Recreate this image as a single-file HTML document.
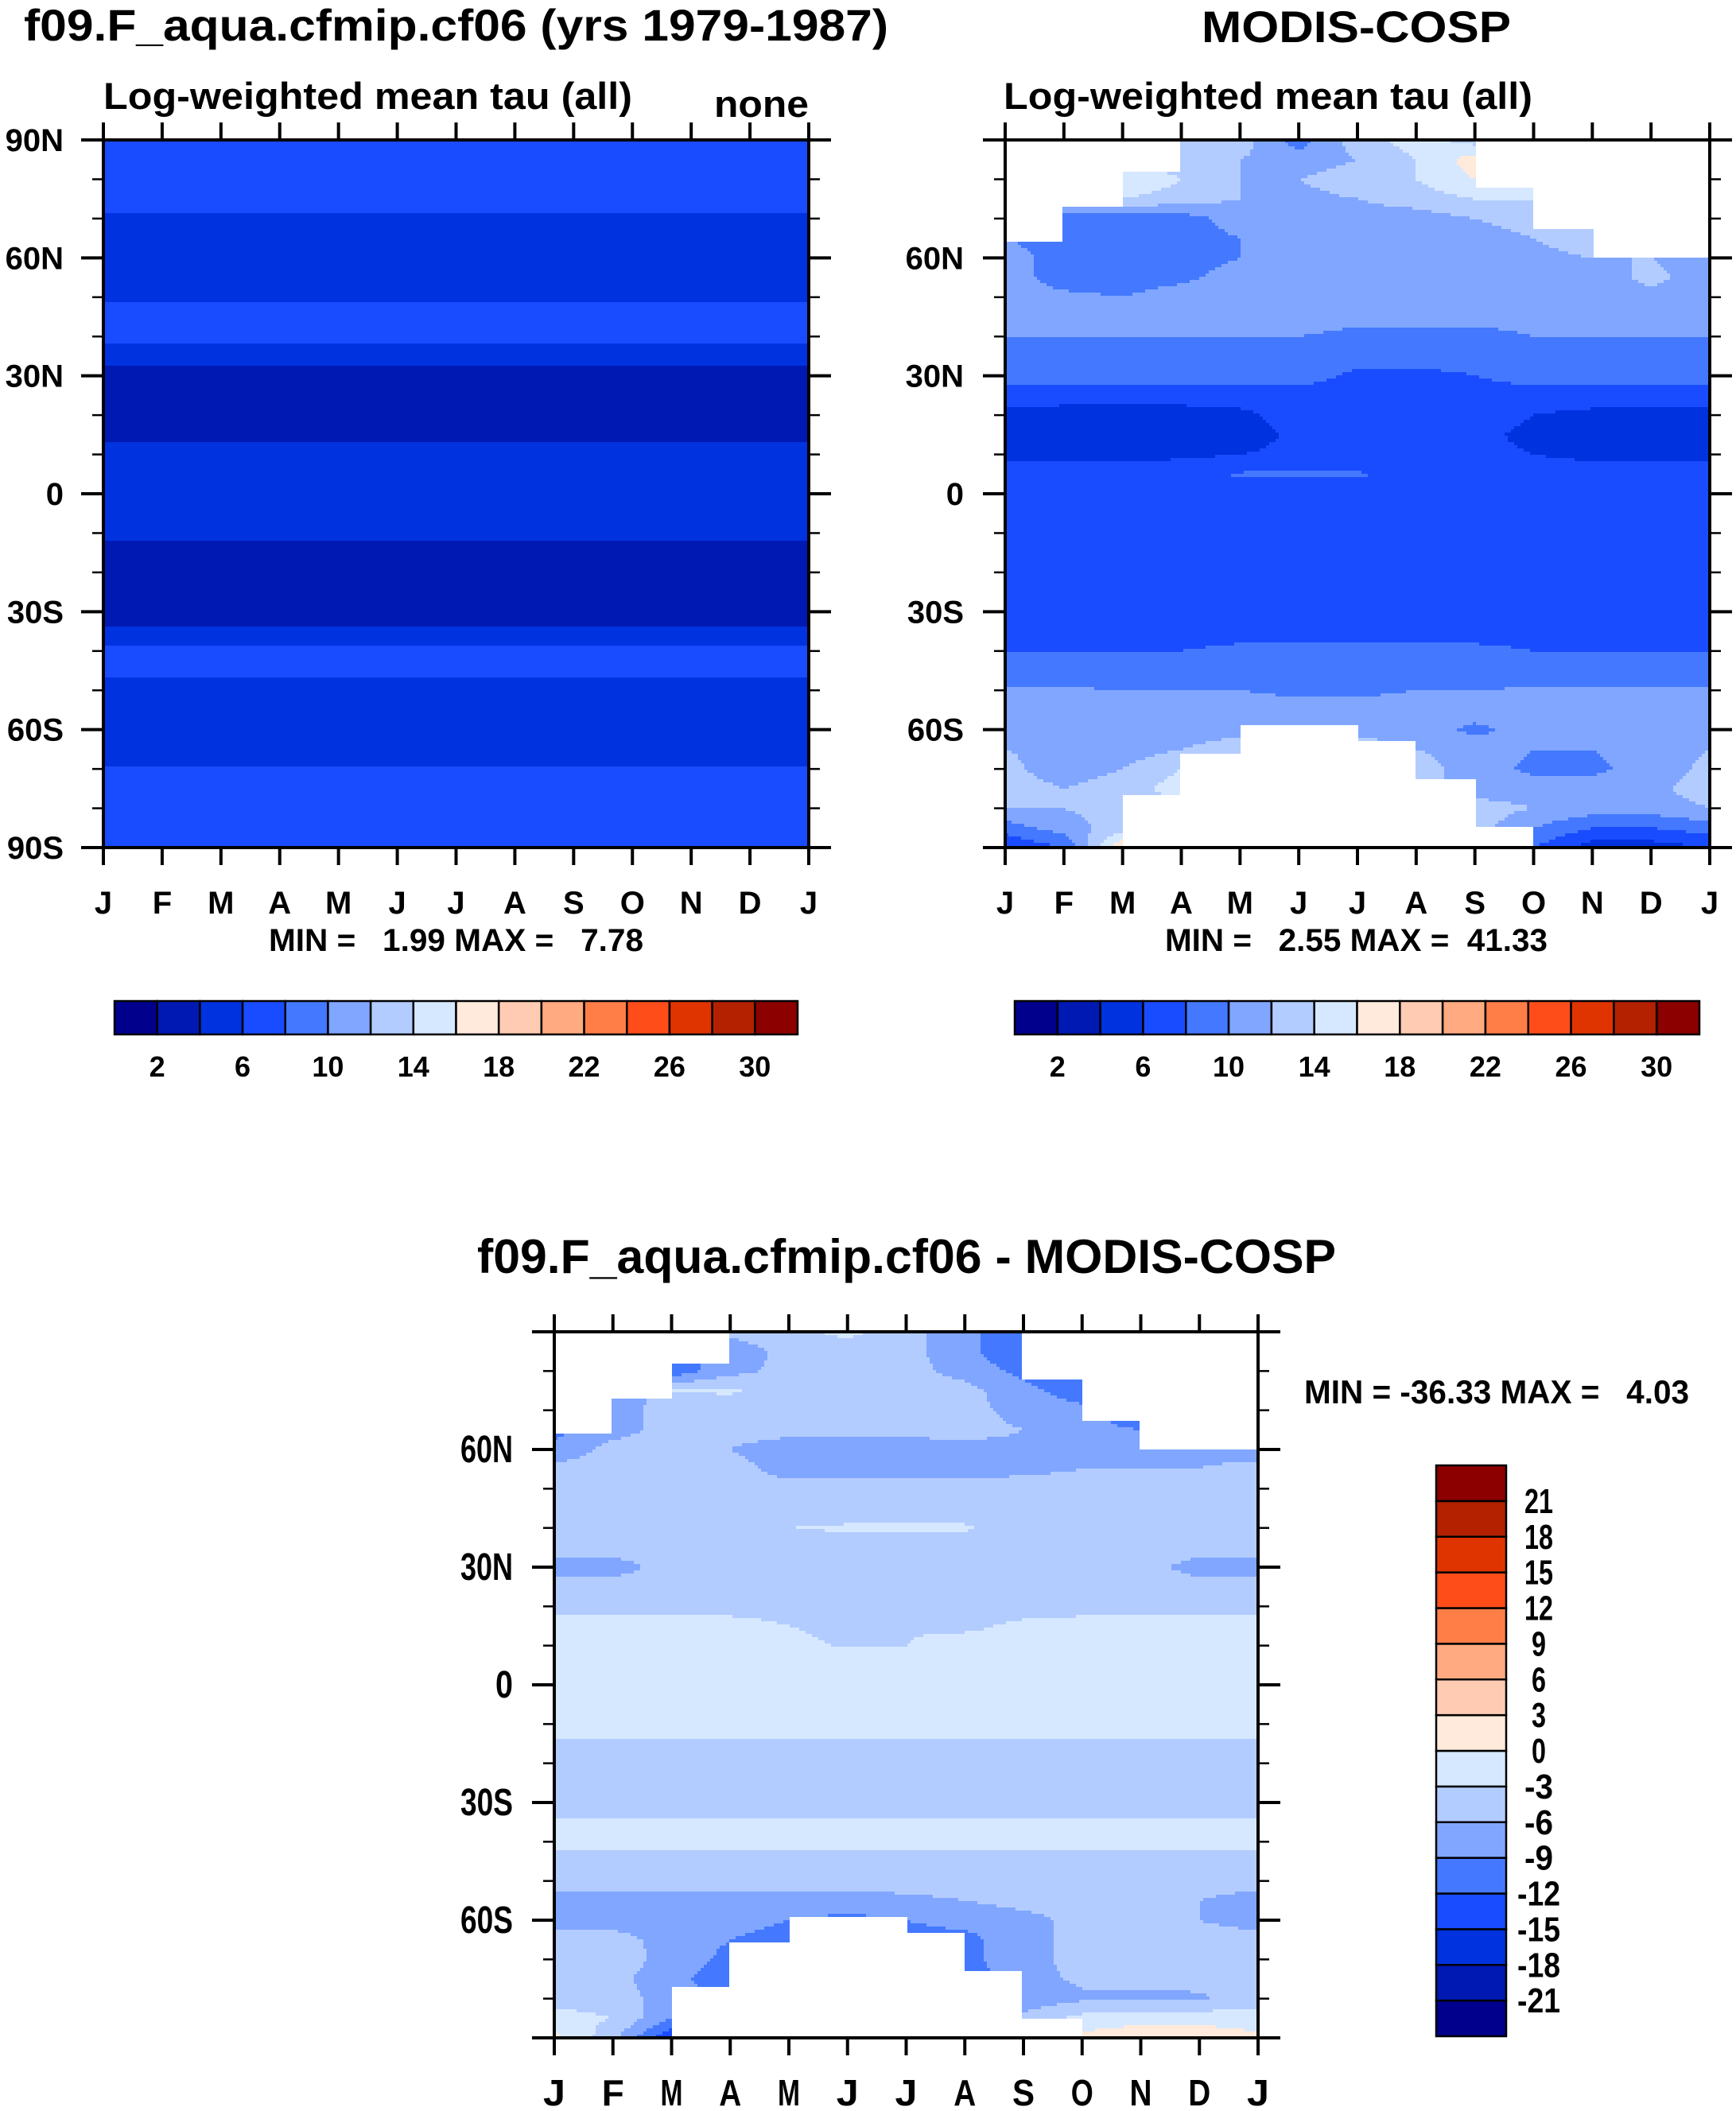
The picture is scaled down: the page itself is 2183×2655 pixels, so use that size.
<!DOCTYPE html>
<html><head><meta charset="utf-8"><style>
html,body{margin:0;padding:0;background:#fff;}
svg{display:block;font-family:"Liberation Sans",sans-serif;font-weight:bold;}
svg text{white-space:pre;}
</style></head><body>
<svg id="root" xmlns="http://www.w3.org/2000/svg" xml:space="preserve" width="2183" height="2655" viewBox="0 0 2183 2655">
<text x="30" y="51" font-size="56" textLength="1087" lengthAdjust="spacingAndGlyphs">f09.F_aqua.cfmip.cf06 (yrs 1979-1987)</text>
<text x="1511" y="53" font-size="56" textLength="389" lengthAdjust="spacingAndGlyphs">MODIS-COSP</text>
<text x="130" y="137" font-size="47" textLength="665" lengthAdjust="spacingAndGlyphs">Log-weighted mean tau (all)</text>
<text x="898" y="147" font-size="47" textLength="119" lengthAdjust="spacingAndGlyphs">none</text>
<text x="1262" y="137" font-size="47" textLength="665" lengthAdjust="spacingAndGlyphs">Log-weighted mean tau (all)</text>
<text x="338" y="1196" font-size="40" textLength="471" lengthAdjust="spacingAndGlyphs">MIN =   1.99 MAX =   7.78</text>
<text x="1465" y="1196" font-size="40" textLength="481" lengthAdjust="spacingAndGlyphs">MIN =   2.55 MAX =  41.33</text>
<text x="600" y="1601" font-size="60" textLength="1080" lengthAdjust="spacingAndGlyphs">f09.F_aqua.cfmip.cf06 - MODIS-COSP</text>
<text x="1640" y="1765" font-size="42" textLength="484" lengthAdjust="spacingAndGlyphs">MIN = -36.33 MAX =   4.03</text>
</svg>
<script>
const NS="http://www.w3.org/2000/svg";
const root=document.getElementById('root');
const months=["J","F","M","A","M","J","J","A","S","O","N","D","J"];
const lats=[90,85,80,75,70,65,60,55,50,45,40,35,30,25,20,15,10,5,0,-5,-10,-15,-20,-25,-30,-35,-40,-45,-50,-55,-60,-65,-70,-75,-80,-85,-90];
const tauColors=["#00008c","#0019b3","#0032e0","#1a4cff","#4479ff","#80a6ff","#b3ccff","#d6e8ff","#ffeadb","#ffccb3","#ffaa80","#ff7e47","#ff4d1a","#e03400","#b32100","#8c0000"];
const tauLabels=["2","6","10","14","18","22","26","30"];
const diffLabels=["-21","-18","-15","-12","-9","-6","-3","0","3","6","9","12","15","18","21"];
// model zonal profile (constant across months)
const modelProfile=[7,7,7,7,5.5,5,5,5,5.7,7,6.5,5,3,3,3,3.3,5,5.5,5.5,5.5,4.5,3,3,3,3,4.2,6.5,6.5,5,5,5,5,6.2,7,7,7,7];
const obsValues=[
[13,13,13,14,13,9,13,15,13,13,13,13],
[13,13,13,13,12,11,12,14,17,13,13,13],
[13,13,16,14,12,12,13,14,16,15,13,13],
[12,12,14,13,12,11.5,12,13,14,14,14,13],
[10,9,9,9,11,11,11,11,12,13,14,13],
[10,9,9,9,10,11,11,11,11,12,14,13],
[11,9,9,9,10,11,11,11,11,11,12,12],
[11,9,9,9.5,11,11,11,11,11,11,11,12.5],
[11,10.5,10,11,11,11,11,11,11,11,11,11.5],
[11,11,11,11,11,11,10.5,10.5,10.5,10.5,11,11],
[10,10,10,10,10,10,9.5,9.5,9.5,10,10,10],
[9,9,9,9,9,9,9,9,8.5,9,9,9],
[9,9,9,9,9,9,7.5,7.5,8,9,9,9],
[7,7,7,7,7,7,7,7,7,7,7,7],
[5.5,5,5,5,5.5,7,7,7,7,6,5.5,5.5],
[5,5,5,5,5,6.5,6.5,6.5,6.5,5.5,5,5],
[5.5,5.5,5.5,5.5,6,6.5,6.5,6.5,6.5,6,5.5,5.5],
[7,7,7,7.5,8.2,8.2,8.2,7.5,7,7,7,7],
[6.5,7,7,7,7,7,7,7,7,7,7,6.5],
[7,7,7,7,7,7,7,7,7,7,7,7],
[7,7,7,7,7,7,7,7,7,7,7,7],
[7,7,7,7,7,7,7,7,7,7,7,7],
[7,7,7,7,7,7,7,7,7,7,7,7],
[7,7,7,7,7,7,7,7,7,7,7,7],
[7,7,7,7,7,7,7,7,7,7,7,7],
[7.5,7.5,7.5,7.5,7.5,7.5,7.5,7.5,7.5,7.5,7.5,7.5],
[8,8,8,8,8.3,8.5,8.5,8.5,8.3,8,8,8],
[9,9,9,9,9,9,9,9,9,9,9,9],
[10.2,10.2,10,10,10,9.5,9.5,10,10,10.2,10.2,10.2],
[11,11,11,11,11,11,11,11,11,11,11,11],
[11,11,11,11,11.5,11.5,11.5,11,9.5,11,11,11],
[12,11.5,11,12,13,13,13,12,11,10,10,11],
[12.5,11,12,14,13,13,13,13,11,9.5,9.5,11],
[13,12,13,15,13,13,13,13,11,11,11,11.5],
[12,12,13,13,13,13,13,13,13,12,11,11],
[9,11,13,13,13,13,13,13,13,10,8,8],
[6,8,18,13,13,13,13,13,13,8,5,5]];
const diffValues=[
[-5,-5,-5,-5,-4,-2,-5,-8,-12,-5,-5,-5],
[-5,-5,-10,-8,-5,-5,-5,-8,-12,-5,-5,-5],
[-5,-5,-11,-7,-5,-5,-5,-7,-10,-12,-5,-5],
[-5,-10,-3,-2.5,-5,-5,-5,-5,-8,-11,-12,-5],
[-8,-7,-5,-5,-5,-5,-5,-5,-7,-8,-12,-5],
[-10,-7,-5,-5,-5,-5,-5,-5,-6,-8,-9,-8],
[-8,-5,-5,-6,-7.5,-7.5,-7.5,-7,-6.5,-6.5,-6.5,-6.5],
[-5,-5,-5,-5,-7,-7,-7,-7,-6.5,-6,-6,-6],
[-5,-5,-5,-5,-5,-5,-5,-5,-5,-5,-5,-4.5],
[-5,-5,-5,-5,-5,-5,-5,-5,-5,-5,-5,-5],
[-5,-5,-5,-5,-3,-2.5,-2.5,-2.5,-5,-5,-5,-5],
[-5,-5,-5,-5,-5,-5,-5,-5,-5,-5,-5,-5],
[-7,-7,-5,-5,-5,-5,-5,-5,-5,-5,-5,-7],
[-5,-5,-5,-5,-5,-5,-5,-5,-5,-5,-5,-5],
[-4,-4,-4,-3.5,-3.5,-4,-4,-4,-4,-4,-4,-4],
[-2,-2,-2,-2.5,-3,-3.5,-3.2,-3.5,-2.5,-2,-2,-2],
[-2,-2,-2,-2,-2.5,-3.2,-3,-2,-2,-2,-2,-2],
[-1.5,-1.5,-1.5,-1.5,-1.5,-1.5,-1.5,-1.5,-1.5,-1.5,-1.5,-1.5],
[-1.5,-1.5,-1.5,-1.5,-1.5,-1.5,-1.5,-1.5,-1.5,-1.5,-1.5,-1.5],
[-1.5,-1.5,-1.5,-1.5,-1.5,-1.5,-1.5,-1.5,-1.5,-1.5,-1.5,-1.5],
[-1.5,-1.5,-1.5,-1.5,-1.5,-1.5,-1.5,-1.5,-1.5,-1.5,-1.5,-1.5],
[-3.5,-3.5,-3.5,-3.5,-3.5,-3.5,-3.5,-3.5,-3.5,-3.5,-3.5,-3.5],
[-4.5,-4.5,-4.5,-4.5,-4.5,-4.5,-4.5,-4.5,-4.5,-4.5,-4.5,-4.5],
[-4.5,-4.5,-4.5,-4.5,-4.5,-4.5,-4.5,-4.5,-4.5,-4.5,-4.5,-4.5],
[-4.5,-4.5,-4.5,-4.5,-4.5,-4.5,-4.5,-4.5,-4.5,-4.5,-4.5,-4.5],
[-2.5,-2.5,-2.5,-2.5,-2.5,-2.5,-2.5,-2.5,-2.5,-2.5,-2.5,-2.5],
[-2,-2,-2,-2,-2,-2,-2,-2,-2,-2,-2,-2],
[-4,-4,-4,-4,-4,-4,-4,-4,-4,-4,-4,-4],
[-5,-5,-5,-5,-5,-5,-5,-5,-5,-5,-5,-5],
[-7,-7,-7,-7,-7,-7,-6.5,-6,-5,-5,-5,-6],
[-7,-7,-7.5,-8,-9,-10,-9,-8,-7,-5,-5,-6],
[-5,-5,-7,-9,-10,-10,-10,-10,-7,-5,-5,-5],
[-4.5,-4.5,-7,-10,-10,-10,-10,-10,-7,-5,-5,-5],
[-4.5,-5,-8,-11,-10,-10,-10,-11,-7,-5.5,-5.5,-5],
[-4,-4,-8,-9,-9,-9,-9,-9,-8,-6.5,-6.5,-6.5],
[-2,-3,-9,-9,-9,-9,-9,-9,-5,-2,-1,-1],
[1,-5,-15,-9,-9,-9,-9,-9,-8,1,2,2]];
// missing-data masks (latitude limits per month interval)
const northMask=[64,73,82,91,91,91,91,91,78,67,60,60];
const southMask=[-91,-91,-77,-66,-59,-59,-63,-73,-85,-91,-91,-91];

function el(tag,attrs,parent){const e=document.createElementNS(NS,tag);for(const k in attrs)e.setAttribute(k,attrs[k]);(parent||root).appendChild(e);return e;}
function sample(grid,m,lat){
  const r=(90-lat)/5, r0=Math.min(35,Math.floor(r)), fr=r-r0;
  const c0=Math.floor(m)%12, c1=(c0+1)%12, fc=m-Math.floor(m);
  const a=grid[r0][c0]*(1-fc)+grid[r0][c1]*fc;
  const b=grid[r0+1][c0]*(1-fc)+grid[r0+1][c1]*fc;
  return a*(1-fr)+b*fr;
}
function drawPanel(name,X,Y,W,H,grid,toIdx,masked,ylabs,small){
  const g=el('g',{});
  
  
  const xS=m=>X+m/12*W, yS=lat=>Y+(90-lat)/180*H;
  const B=4;
  for(let py=0;py<H;py+=B){
    const lat=90-(py+B/2)/H*180;
    let runStart=0,runC=null;
    const flush=(end)=>{ if(runC){el('rect',{x:X+runStart,y:Y+py,width:end-runStart,height:Math.min(B,H-py)+0.5,fill:runC},g);} };
    for(let px=0;px<W;px+=B){
      const m=(px+B/2)/W*12;
      let c;
      const mi=Math.min(11,Math.floor(m));
      if(masked&&(lat>northMask[mi]||lat<southMask[mi])) c='#ffffff';
      else c=tauColors[Math.max(0,Math.min(15,toIdx(sample(grid,m,lat))))];
      if(c!==runC){flush(px);runStart=px;runC=c;}
    }
    flush(W);
  }
  const fr=el('rect',{x:X,y:Y,width:W,height:H,fill:'none',stroke:'#000','stroke-width':4});
  
  
  for(let i=0;i<=12;i++){
    const x=xS(i);
    el('line',{x1:x,y1:Y,x2:x,y2:Y-22,stroke:'#000','stroke-width':4});
    el('line',{x1:x,y1:Y+H,x2:x,y2:Y+H+22,stroke:'#000','stroke-width':4});
    const t=el('text',{x:x,y:small?2648:1149,'font-size':small?46:40,'text-anchor':'middle'});
    
    
    if(small){t.setAttribute('textLength',28);t.setAttribute('lengthAdjust','spacingAndGlyphs');}
    t.textContent=months[i];
  }
  for(let lat=90;lat>=-90;lat-=10){
    const y=yS(lat), major=lat%30===0, L=major?28:14;
    el('line',{x1:X,y1:y,x2:X-L,y2:y,stroke:'#000','stroke-width':major?4:2.5});
    el('line',{x1:X+W,y1:y,x2:X+W+L,y2:y,stroke:'#000','stroke-width':major?4:2.5});
  }
  ylabs.forEach(([lat,txt,xr])=>{
    const t=el('text',{x:xr,y:yS(lat)+(small?16:14),'font-size':small?48:40,'text-anchor':'end'});
    
    
    if(small){t.setAttribute('textLength',txt.length*22);t.setAttribute('lengthAdjust','spacingAndGlyphs');}
    t.textContent=txt;
  });
}
const tauIdx=v=>Math.floor(v/2);
const diffIdx=v=>Math.floor((v+24)/3);
const allLabs=[[90,'90N'],[60,'60N'],[30,'30N'],[0,'0'],[-30,'30S'],[-60,'60S'],[-90,'90S']];
drawPanel('model-contour-panel',130,176,887,890,obsValues.map((r,i)=>r.map(()=>modelProfile[i])),tauIdx,false,allLabs.map(a=>[a[0],a[1],80]),false);
drawPanel('obs-contour-panel',1264,176,886,890,obsValues,tauIdx,true,allLabs.slice(1,6).map(a=>[a[0],a[1],1212]),false);
drawPanel('diff-contour-panel',697,1675,885,888,diffValues,diffIdx,true,allLabs.slice(1,6).map(a=>[a[0],a[1],645]),true);

function hBar(name,X,Y,W,H){
  const bw=W/16;
  tauColors.forEach((c,i)=>{
    const r=el('rect',{x:X+i*bw,y:Y,width:bw,height:H,fill:c,stroke:'#000','stroke-width':2.5});
    
    
  });
  tauLabels.forEach((l,k)=>{
    const t=el('text',{x:X+(2*k+1)*bw,y:Y+95,'font-size':36,'text-anchor':'middle'});
    
    
    t.textContent=l;
  });
}
hBar('model-colorbar',144,1259,859,42);
hBar('obs-colorbar',1276,1259,861,42);
(function(){
  const X=1806,Y=1843,W=88,H=718,bh=H/16;
  tauColors.forEach((c,i)=>{
    const r=el('rect',{x:X,y:Y+H-(i+1)*bh,width:W,height:bh,fill:c,stroke:'#000','stroke-width':2.5});
    
    
  });
  diffLabels.forEach((l,k)=>{
    const t=el('text',{x:1935,y:Y+H-(k+1)*bh+15,'font-size':44,'text-anchor':'middle','textLength':l.length*18,'lengthAdjust':'spacingAndGlyphs'});
    
    
    t.textContent=l;
  });
})();
</script>
</body></html>
